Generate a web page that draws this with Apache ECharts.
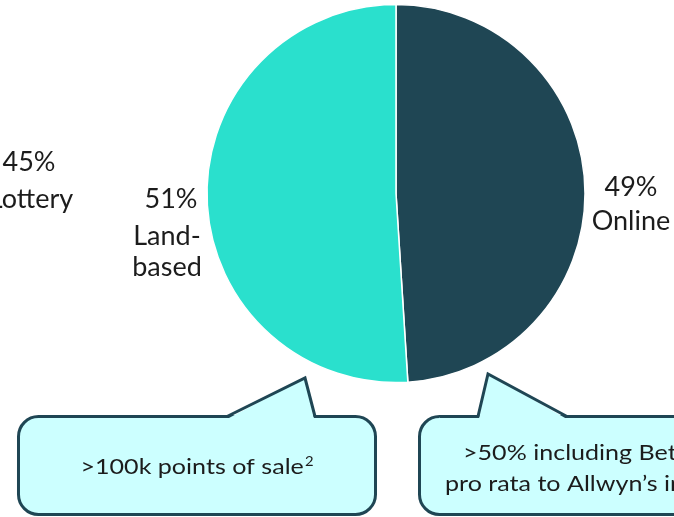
<!DOCTYPE html>
<html>
<head>
<meta charset="utf-8">
<script src="https://cdn.jsdelivr.net/npm/echarts@6/dist/echarts.min.js"></script>
<style>
  html, body { margin: 0; padding: 0; background: #fff; }
  #chart { width: 674px; height: 517px; }
</style>
</head>
<body>
<div id="chart"></div>
<script>
// Revenue split by channel
const categories = ['Online', 'Land-based'];
const shares = [49, 51];
const categoryLines = [['Online'], ['Land-', 'based']];
const sliceColors = ['#1f4654', '#2ae0cd'];

// Neighbouring chart's label (lottery share)
const neighbourShare = 45;
const neighbourName = 'Lottery';

// Callout notes
const landNote = ['>100k points of sale', '2'];
const onlineNote = ['>50% including Betano', 'pro rata to Allwyn\u2019s interest'];

const FONT = 'Lato, "Noto Sans", sans-serif';
const INK = '#1c1c1c';
const EDGE = '#1f4654';
const BUBBLE = '#ccffff';

const chart = echarts.init(document.getElementById('chart'));

function textEl(str, x, y, size, align, sx) {
  return {
    type: 'text', x: x, y: y, z: 20, scaleX: sx || 1,
    style: {
      text: str, fill: INK, font: `${size}px ${FONT}`,
      textAlign: align || 'center', textVerticalAlign: 'middle'
    }
  };
}

// Rounded box plus a triangular pointer on its top edge
function bubble(x0, y0, x1, y1, r, baseL, tipX, tipY, baseR) {
  return [
    {
      type: 'rect', z: 10,
      shape: { x: x0, y: y0, width: x1 - x0, height: y1 - y0, r: r },
      style: { fill: BUBBLE, stroke: EDGE, lineWidth: 3 }
    },
    {
      type: 'polygon', z: 11,
      shape: { points: [[baseL + 1, y0 + 2], [tipX, tipY], [baseR - 1, y0 + 2]] },
      style: { fill: BUBBLE }
    },
    {
      type: 'polyline', z: 12,
      shape: { points: [[baseL, y0], [tipX, tipY], [baseR, y0]] },
      style: { stroke: EDGE, lineWidth: 3, fill: null, lineJoin: 'miter' }
    }
  ];
}

const labelSize = 27;
const noteSize = 22;
const noteStretch = 1.14;

const graphics = [
  // neighbour label
  textEl(neighbourShare + '%', 29, 162, labelSize),
  textEl(neighbourName, 31, 199, labelSize),
  // Land-based label
  textEl(shares[1] + '%', 171, 199, labelSize),
  textEl(categoryLines[1][0], 167, 236, labelSize),
  textEl(categoryLines[1][1], 167, 267, labelSize),
  // Online label
  textEl(shares[0] + '%', 631, 187, labelSize),
  textEl(categoryLines[0][0], 631, 221, labelSize),
  // callouts
  ...bubble(18.5, 416.5, 375.5, 514.5, 20, 227, 305, 378, 315),
  ...bubble(419.5, 416.5, 760, 514.5, 20, 478, 488, 374, 567),
  {
    type: 'text', x: 197, y: 467, z: 20, scaleX: noteStretch,
    style: {
      text: `{m|${landNote[0]}}{s|${landNote[1]}}`,
      textAlign: 'center', textVerticalAlign: 'middle',
      rich: {
        m: { fontSize: noteSize, fontFamily: FONT, fill: INK, color: INK },
        s: { fontSize: 13, fontFamily: FONT, fill: INK, color: INK, verticalAlign: 'top', padding: [0, 0, 10, 1] }
      }
    }
  },
  textEl(onlineNote[0], 463, 453, noteSize, 'left', noteStretch),
  textEl(onlineNote[1], 445, 484, noteSize, 'left', noteStretch)
];

chart.setOption({
  backgroundColor: '#ffffff',
  animation: false,
  series: [{
    type: 'pie',
    center: [396, 193.5],
    radius: 189,
    startAngle: 90,
    clockwise: true,
    label: { show: false },
    labelLine: { show: false },
    itemStyle: { borderColor: '#ffffff', borderWidth: 1.5 },
    data: categories.map((name, i) => ({
      name: name, value: shares[i], itemStyle: { color: sliceColors[i] }
    }))
  }],
  graphic: graphics
});
</script>
</body>
</html>
